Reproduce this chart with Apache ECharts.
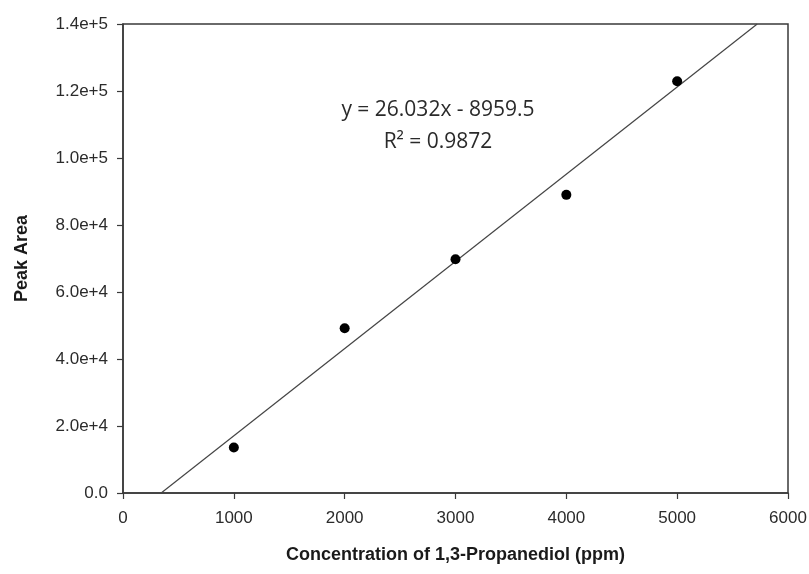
<!DOCTYPE html>
<html>
<head>
<meta charset="utf-8">
<script src="https://cdn.jsdelivr.net/npm/echarts@6/dist/echarts.min.js"></script>
<style>html,body{margin:0;padding:0;background:#fff;}#c{width:809px;height:574px;}</style>
</head>
<body>
<div id="c"></div>
<script>
const concentration = [1000, 2000, 3000, 4000, 5000];
const peakArea = [13600, 49200, 69800, 89000, 122900];
const slope = 26.032;
const intercept = -8959.5;
const rSquared = 0.9872;
const xLabel = 'Concentration of 1,3-Propanediol (ppm)';
const yLabel = 'Peak Area';
const xMin = 0, xMax = 6000, xStep = 1000;
const yMin = 0, yMax = 140000, yStep = 20000;

const scatterData = concentration.map((x, i) => [x, peakArea[i]]);
const lineData = [[(yMin - intercept) / slope, yMin], [(yMax - intercept) / slope, yMax]];
const eqText = 'y = ' + slope.toFixed(3) + 'x - ' + Math.abs(intercept).toFixed(1);
const r2Text = 'R² = ' + rSquared.toFixed(4);

const chart = echarts.init(document.getElementById('c'), null, {renderer: 'canvas'});
const tickFamily = 'Liberation Sans';
chart.setOption({
  animation: false,
  backgroundColor: '#fff',
  grid: {left: 123, right: 21, top: 24, bottom: 81, show: true, containLabel: false, outerBoundsMode: 'none',
         borderColor: '#3a3a3a', borderWidth: 1.5, backgroundColor: 'transparent'},
  xAxis: {
    type: 'value', min: xMin, max: xMax, interval: xStep,
    name: xLabel, nameLocation: 'middle', nameGap: 53,
    nameTextStyle: {fontFamily: 'Liberation Sans', fontSize: 18, fontWeight: 'bold', color: '#1a1a1a'},
    axisLine: {show: true, lineStyle: {color: '#3a3a3a', width: 1.5}},
    axisTick: {show: true, inside: false, length: 6, lineStyle: {color: '#3a3a3a', width: 1.2}},
    axisLabel: {margin: 17, formatter: v => String(v), fontFamily: tickFamily, fontSize: 17, color: '#2b2b2b'},
    splitLine: {show: false}
  },
  yAxis: {
    type: 'value', min: yMin, max: yMax, interval: yStep,
    name: yLabel, nameLocation: 'middle', nameGap: 92, nameRotate: 90,
    nameTextStyle: {fontFamily: 'Liberation Sans', fontSize: 18, fontWeight: 'bold', color: '#1a1a1a'},
    axisLine: {show: true, lineStyle: {color: '#3a3a3a', width: 1.5}},
    axisTick: {show: true, inside: false, length: 6, lineStyle: {color: '#3a3a3a', width: 1.2}},
    axisLabel: {margin: 15, formatter: v => v === 0 ? '0.0' : v.toExponential(1), fontFamily: tickFamily, fontSize: 17, color: '#2b2b2b'},
    splitLine: {show: false}
  },
  series: [
    {
      type: 'line', data: lineData, showSymbol: false, symbol: 'none',
      lineStyle: {color: '#444', width: 1.2}, silent: true, z: 2
    },
    {
      type: 'scatter', data: scatterData, symbol: 'circle', symbolSize: 10,
      itemStyle: {color: '#000', opacity: 1}, z: 3
    }
  ],
  graphic: [
    {type: 'text', x: 438, y: 110, style: {text: eqText, textAlign: 'center', textVerticalAlign: 'middle', fontFamily: 'Open Sans', fontSize: 21, fill: '#2a2a2a'}},
    {type: 'text', x: 438, y: 142, style: {text: r2Text, textAlign: 'center', textVerticalAlign: 'middle', fontFamily: 'Open Sans', fontSize: 21, fill: '#2a2a2a'}}
  ]
});
</script>
</body>
</html>
